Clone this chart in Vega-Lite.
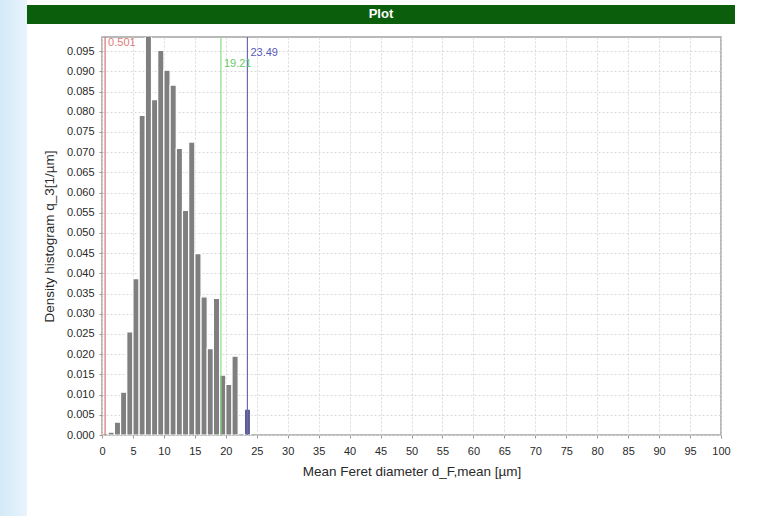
{
  "$schema": "https://vega.github.io/schema/vega-lite/v6.json",
  "width": 619,
  "height": 398,
  "autosize": {"type": "none"},
  "padding": {"left": 102, "top": 37, "right": 36, "bottom": 81},
  "background": "white",
  "datasets": {
    "bins": [
      {"start": 1, "end": 2, "density": 0.0007},
      {"start": 2, "end": 3, "density": 0.0032},
      {"start": 3, "end": 4, "density": 0.0106},
      {"start": 4, "end": 5, "density": 0.0255},
      {"start": 5, "end": 6, "density": 0.0387},
      {"start": 6, "end": 7, "density": 0.0791},
      {"start": 7, "end": 8, "density": 0.1000},
      {"start": 8, "end": 9, "density": 0.0830},
      {"start": 9, "end": 10, "density": 0.0952},
      {"start": 10, "end": 11, "density": 0.0903},
      {"start": 11, "end": 12, "density": 0.0866},
      {"start": 12, "end": 13, "density": 0.0709},
      {"start": 13, "end": 14, "density": 0.0556},
      {"start": 14, "end": 15, "density": 0.0725},
      {"start": 15, "end": 16, "density": 0.0449},
      {"start": 16, "end": 17, "density": 0.0342},
      {"start": 17, "end": 18, "density": 0.0214},
      {"start": 18, "end": 19, "density": 0.0338},
      {"start": 19, "end": 20, "density": 0.0148},
      {"start": 20, "end": 21, "density": 0.0125},
      {"start": 21, "end": 22, "density": 0.0195},
      {"start": 23, "end": 24, "density": 0.0064}
    ],
    "stats": [
      {"value": 0.501, "label": "0.501", "stat": "x10"},
      {"value": 19.21, "label": "19.21", "stat": "x50"},
      {"value": 23.49, "label": "23.49", "stat": "x90"}
    ]
  },
  "config": {
    "font": "Liberation Sans",
    "view": {"stroke": "#a3a3a3", "strokeWidth": 1.5},
    "axis": {
      "domain": false,
      "grid": true,
      "gridColor": "#d9d9d9",
      "gridDash": [2, 2],
      "gridWidth": 1,
      "tickColor": "#999999",
      "tickSize": 3,
      "labelFontSize": 11,
      "labelColor": "#2a2a2a",
      "labelOverlap": false,
      "labelFlush": false,
      "titleFontSize": 13.5,
      "titleFontWeight": "normal",
      "titleColor": "#2a2a2a"
    },
    "axisX": {"tickCount": 21, "labelPadding": 7, "titlePadding": 8},
    "axisY": {"tickCount": 20, "labelPadding": 5, "titlePadding": 10}
  },
  "layer": [
    {
      "data": {"name": "bins"},
      "mark": {"type": "rect", "clip": true, "stroke": "white", "strokeWidth": 1.2},
      "encoding": {
        "x": {
          "field": "start", "type": "quantitative",
          "scale": {"domain": [0, 100], "nice": false, "zero": false},
          "axis": {"title": "Mean Feret diameter d_F,mean [µm]", "values": [0,5,10,15,20,25,30,35,40,45,50,55,60,65,70,75,80,85,90,95,100], "tickCount": 21, "format": "d"}
        },
        "x2": {"field": "end"},
        "y": {
          "field": "density", "type": "quantitative",
          "scale": {"domain": [0, 0.0985], "nice": false},
          "axis": {"title": "Density histogram q_3[1/µm]", "values": [0,0.005,0.01,0.015,0.02,0.025,0.03,0.035,0.04,0.045,0.05,0.055,0.06,0.065,0.07,0.075,0.08,0.085,0.09,0.095], "tickCount": 20, "format": ".3f"}
        },
        "y2": {"datum": 0},
        "color": {"condition": {"test": "datum.start === 23", "value": "#5d5d92"}, "value": "#7f7f7f"}
      }
    },
    {
      "data": {"values": [{}]},
      "mark": {"type": "rect", "fill": {"gradient": "linear", "x1": 0, "x2": 1, "y1": 0, "y2": 0, "stops": [{"offset": 0, "color": "#d3e9f7"}, {"offset": 1, "color": "#e8f4fc"}]}},
      "encoding": {
        "x": {"datum": -16.48, "type": "quantitative"},
        "x2": {"datum": -12.12},
        "y": {"datum": 0.1077, "type": "quantitative"},
        "y2": {"datum": -0.0201}
      }
    },
    {
      "data": {"values": [{}]},
      "mark": {"type": "rect", "fill": "#0b5e0b"},
      "encoding": {
        "x": {"datum": -12.12, "type": "quantitative"},
        "x2": {"datum": 102.26},
        "y": {"datum": 0.10642, "type": "quantitative"},
        "y2": {"datum": 0.10172}
      }
    },
    {
      "data": {"values": [{"t": "Plot"}]},
      "mark": {"type": "text", "color": "white", "fontWeight": "bold", "fontSize": 13, "font": "Liberation Sans", "baseline": "middle", "align": "center"},
      "encoding": {
        "x": {"datum": 45.07, "type": "quantitative"},
        "y": {"datum": 0.10407, "type": "quantitative"},
        "text": {"field": "t"}
      }
    },
    {
      "data": {"name": "stats"},
      "mark": {"type": "rule", "strokeWidth": 1.2},
      "encoding": {
        "x": {"field": "value", "type": "quantitative"},
        "color": {"field": "stat", "type": "nominal", "scale": {"domain": ["x10", "x50", "x90"], "range": ["#e07070", "#86dc86", "#6a6ab6"]}, "legend": null}
      }
    },
    {
      "data": {"name": "stats"},
      "transform": [{"filter": "datum.stat === 'x10'"}],
      "mark": {"type": "text", "align": "left", "dx": 3, "baseline": "middle", "fontSize": 11, "color": "#e07a7a"},
      "encoding": {
        "x": {"field": "value", "type": "quantitative"},
        "y": {"datum": 0.0970, "type": "quantitative"},
        "text": {"field": "label"}
      }
    },
    {
      "data": {"name": "stats"},
      "transform": [{"filter": "datum.stat === 'x50'"}],
      "mark": {"type": "text", "align": "left", "dx": 3, "baseline": "middle", "fontSize": 11, "color": "#66cc66"},
      "encoding": {
        "x": {"field": "value", "type": "quantitative"},
        "y": {"datum": 0.0917, "type": "quantitative"},
        "text": {"field": "label"}
      }
    },
    {
      "data": {"name": "stats"},
      "transform": [{"filter": "datum.stat === 'x90'"}],
      "mark": {"type": "text", "align": "left", "dx": 3, "baseline": "middle", "fontSize": 11, "color": "#5a5ab8"},
      "encoding": {
        "x": {"field": "value", "type": "quantitative"},
        "y": {"datum": 0.0945, "type": "quantitative"},
        "text": {"field": "label"}
      }
    }
  ]
}
